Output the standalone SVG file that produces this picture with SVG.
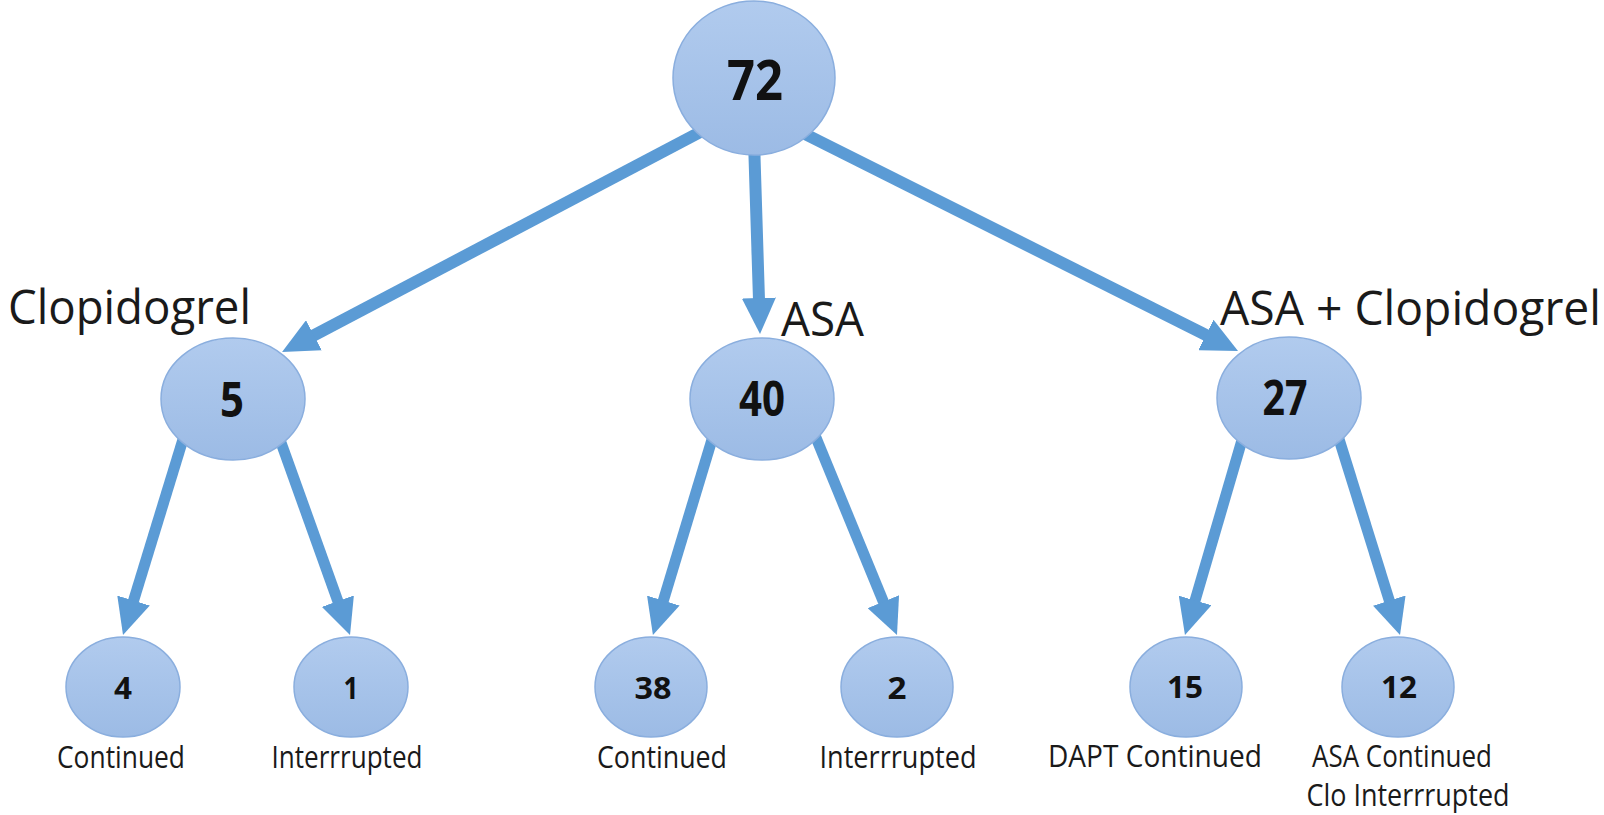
<svg xmlns="http://www.w3.org/2000/svg" width="1604" height="815" viewBox="0 0 1604 815">
  <defs>
    <linearGradient id="nodeFill" x1="0" y1="0" x2="0" y2="1">
      <stop offset="0" stop-color="#b1cbee"/>
      <stop offset="1" stop-color="#9cbbe5"/>
    </linearGradient>
    <marker id="arrow" markerUnits="userSpaceOnUse" markerWidth="36" markerHeight="34" viewBox="0 0 36 34" refX="6" refY="17" orient="auto">
      <path d="M0,0 L36,17 L0,34 Z" fill="#5b9bd5"/>
    </marker>
    <style>
      .node { fill: url(#nodeFill); stroke: #8aaede; stroke-width: 1.5; }
      .edge { stroke: #5b9bd5; fill: none; marker-end: url(#arrow); }
      .thick { stroke-width: 12; }
      .thin { stroke-width: 11; }
      .num { font-family: "Open Sans", "Liberation Sans", sans-serif; font-weight: bold; fill: #111; text-anchor: middle; }
      .lbl { font-family: "Open Sans", "Liberation Sans", sans-serif; fill: #1a1a1a; }
      .sub { font-size: 31px; text-anchor: middle; }
      .grp { font-size: 47px; }
    </style>
  </defs>
  <rect width="1604" height="815" fill="#ffffff"/>

  <g id="connectors">
    <line class="edge thick" x1="725" y1="119" x2="308.6" y2="338.1"/>
    <line class="edge thick" x1="754" y1="140" x2="759.1" y2="304"/>
    <line class="edge thick" x1="777" y1="120" x2="1211.2" y2="337.6"/>
    <line class="edge thin" x1="188" y1="423" x2="131.8" y2="606.3"/>
    <line class="edge thin" x1="274" y1="423" x2="339.9" y2="606.8"/>
    <line class="edge thin" x1="717" y1="423" x2="661.6" y2="606.3"/>
    <line class="edge thin" x1="810" y1="423" x2="885.6" y2="607.2"/>
    <line class="edge thin" x1="1247" y1="423" x2="1193.4" y2="606.2"/>
    <line class="edge thin" x1="1334" y1="423" x2="1391.1" y2="606.3"/>
  </g>

  <g id="node-72">
    <ellipse class="node" cx="754" cy="78" rx="81" ry="77"/>
    <text class="num" x="755" y="100" font-size="56" textLength="56" lengthAdjust="spacingAndGlyphs">72</text>
  </g>

  <g id="node-5">
    <ellipse class="node" cx="233" cy="399" rx="72" ry="61"/>
    <text class="num" x="232" y="417" font-size="48" textLength="24" lengthAdjust="spacingAndGlyphs">5</text>
    <text class="lbl grp" x="8" y="324" textLength="243" lengthAdjust="spacingAndGlyphs">Clopidogrel</text>
  </g>

  <g id="node-40">
    <ellipse class="node" cx="762" cy="399" rx="72" ry="61"/>
    <text class="num" x="762" y="416" font-size="48" textLength="46" lengthAdjust="spacingAndGlyphs">40</text>
    <text class="lbl grp" x="781" y="336" textLength="83" lengthAdjust="spacingAndGlyphs">ASA</text>
  </g>

  <g id="node-27">
    <ellipse class="node" cx="1289" cy="398" rx="72" ry="61"/>
    <text class="num" x="1285" y="415" font-size="48" textLength="45" lengthAdjust="spacingAndGlyphs">27</text>
    <text class="lbl grp" x="1220" y="325" textLength="381" lengthAdjust="spacingAndGlyphs">ASA + Clopidogrel</text>
  </g>

  <g id="node-4">
    <ellipse class="node" cx="123" cy="687" rx="57" ry="50"/>
    <text class="num" x="123" y="699" font-size="30" textLength="18" lengthAdjust="spacingAndGlyphs">4</text>
    <text class="lbl sub" x="121" y="768" textLength="128" lengthAdjust="spacingAndGlyphs">Continued</text>
  </g>

  <g id="node-1">
    <ellipse class="node" cx="351" cy="687" rx="57" ry="50"/>
    <text class="num" x="351" y="699" font-size="30" textLength="15" lengthAdjust="spacingAndGlyphs">1</text>
    <text class="lbl sub" x="347" y="768" textLength="151" lengthAdjust="spacingAndGlyphs">Interrrupted</text>
  </g>

  <g id="node-38">
    <ellipse class="node" cx="651" cy="687" rx="56" ry="50"/>
    <text class="num" x="653" y="699" font-size="30" textLength="37" lengthAdjust="spacingAndGlyphs">38</text>
    <text class="lbl sub" x="662" y="768" textLength="130" lengthAdjust="spacingAndGlyphs">Continued</text>
  </g>

  <g id="node-2">
    <ellipse class="node" cx="897" cy="687" rx="56" ry="50"/>
    <text class="num" x="897" y="699" font-size="30" textLength="19" lengthAdjust="spacingAndGlyphs">2</text>
    <text class="lbl sub" x="898" y="768" textLength="157" lengthAdjust="spacingAndGlyphs">Interrrupted</text>
  </g>

  <g id="node-15">
    <ellipse class="node" cx="1186" cy="687" rx="56" ry="50"/>
    <text class="num" x="1185" y="698" font-size="30" textLength="36" lengthAdjust="spacingAndGlyphs">15</text>
    <text class="lbl sub" x="1155" y="767" textLength="214" lengthAdjust="spacingAndGlyphs">DAPT Continued</text>
  </g>

  <g id="node-12">
    <ellipse class="node" cx="1398" cy="687" rx="56" ry="50"/>
    <text class="num" x="1399" y="698" font-size="30" textLength="36" lengthAdjust="spacingAndGlyphs">12</text>
    <text class="lbl sub" x="1402" y="767" textLength="180" lengthAdjust="spacingAndGlyphs">ASA Continued</text>
    <text class="lbl sub" x="1408" y="806" textLength="203" lengthAdjust="spacingAndGlyphs">Clo Interrrupted</text>
  </g>
</svg>
